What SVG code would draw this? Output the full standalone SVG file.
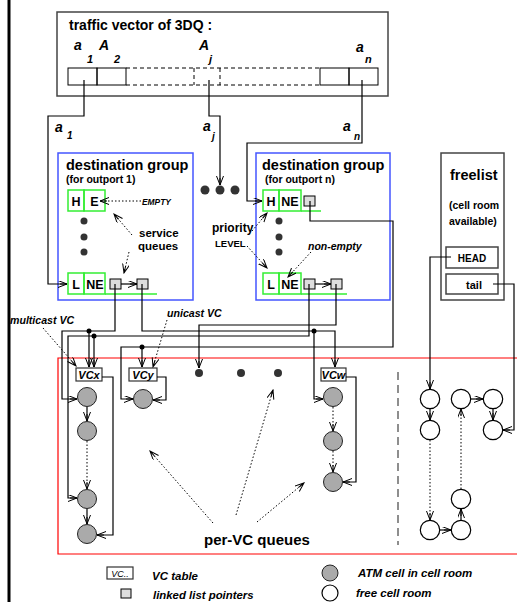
<svg xmlns="http://www.w3.org/2000/svg" width="517" height="602" viewBox="0 0 517 602">
<defs>
<marker id="ah" markerUnits="userSpaceOnUse" markerWidth="10" markerHeight="8" refX="9" refY="3.5" orient="auto">
<path d="M0,0 L9,3.5 L0,7 M9,3.5 L2,3.5" fill="none" stroke="#000" stroke-width="1"/>
</marker>
</defs>
<style>
.t{font-family:"Liberation Sans",Arial,Helvetica,sans-serif;font-weight:bold;fill:#000}
.i{font-style:italic}
.ln{fill:none;stroke:#000;stroke-width:1.2}
.dt{fill:none;stroke:#000;stroke-width:1;stroke-dasharray:1.5 2}
.cell{fill:#aaa;stroke:#222;stroke-width:1}
.free{fill:#fff;stroke:#000;stroke-width:1.2}
.gc{fill:none;stroke:#33ee33;stroke-width:1.5}
.ptr{fill:#ddd;stroke:#000;stroke-width:1}
.bd{fill:#333}
.box{fill:#fff;stroke:#444;stroke-width:1.5}
.blue{fill:none;stroke:#4455ff;stroke-width:1.5}
.vc{fill:#fff;stroke:#333;stroke-width:1.2}
</style>
<rect width="517" height="602" fill="#fff"/>
<line x1="9" y1="0" x2="9" y2="602" stroke="#000" stroke-width="3"/>

<g id="traffic-vector">
<rect x="57" y="12" width="331" height="84" class="box"/>
<text x="69" y="30" class="t" font-size="14">traffic vector of 3DQ :</text>
<rect x="68" y="68" width="29" height="17" fill="none" stroke="#000"/>
<rect x="97" y="68" width="29" height="17" fill="none" stroke="#000"/>
<path d="M126,68 H320 M126,85 H320 M194,68 V85 M220,68 V85" fill="none" stroke="#000" stroke-dasharray="4 3"/>
<rect x="320" y="68" width="29" height="17" fill="none" stroke="#000"/>
<rect x="349" y="68" width="29" height="17" fill="none" stroke="#000"/>
<text x="74" y="50" class="t i" font-size="14">a</text><text x="87" y="63" class="t i" font-size="11">1</text>
<text x="99" y="50" class="t i" font-size="14">A</text><text x="114" y="63" class="t i" font-size="11">2</text>
<text x="199" y="50" class="t i" font-size="14">A</text><text x="209" y="63" class="t i" font-size="11">j</text>
<text x="356" y="52" class="t i" font-size="14">a</text><text x="365" y="63" class="t i" font-size="11">n</text>
</g>

<g id="dest-group-1">
<rect x="58" y="153" width="135" height="147" class="blue"/>
<text x="66" y="170" class="t" font-size="14.5">destination group</text>
<text x="66" y="183" class="t" font-size="10.5">(for outport 1)</text>
<rect x="68" y="190" width="16" height="21" class="gc"/>
<rect x="84" y="190" width="21" height="21" class="gc"/>
<text x="76" y="206" class="t" font-size="12.5" text-anchor="middle">H</text>
<text x="94.5" y="206" class="t" font-size="12.5" text-anchor="middle">E</text>
<circle cx="84" cy="221" r="3.5" class="bd"/><circle cx="84" cy="237" r="3.5" class="bd"/><circle cx="84" cy="252" r="3.5" class="bd"/>
<rect x="68" y="273" width="16" height="21" class="gc"/>
<rect x="84" y="273" width="21" height="21" class="gc"/>
<line x1="105" y1="294" x2="157" y2="294" class="gc"/>
<text x="76" y="289" class="t" font-size="12.5" text-anchor="middle">L</text>
<text x="95" y="289" class="t" font-size="12.5" text-anchor="middle">NE</text>
<rect x="110" y="279" width="11" height="10" class="ptr"/>
<rect x="137" y="279" width="11" height="10" class="ptr"/>
<text x="142" y="205" class="t i" font-size="8.4">EMPTY</text>
<text x="139" y="237" class="t" font-size="11.5">service</text>
<text x="138" y="250" class="t" font-size="11.5">queues</text>
</g>

<g id="dest-group-n">
<rect x="256" y="153" width="134" height="147" class="blue"/>
<text x="262" y="170" class="t" font-size="14.5">destination group</text>
<text x="265" y="183" class="t" font-size="10.5">(for outport n)</text>
<rect x="263" y="190" width="16" height="21" class="gc"/>
<rect x="279" y="190" width="22" height="21" class="gc"/>
<line x1="301" y1="211" x2="321" y2="211" class="gc"/>
<text x="271" y="206" class="t" font-size="12.5" text-anchor="middle">H</text>
<text x="290" y="206" class="t" font-size="12.5" text-anchor="middle">NE</text>
<rect x="304" y="196" width="11" height="10" class="ptr"/>
<circle cx="279" cy="221" r="3.5" class="bd"/><circle cx="279" cy="237" r="3.5" class="bd"/><circle cx="279" cy="252" r="3.5" class="bd"/>
<rect x="263" y="273" width="16" height="21" class="gc"/>
<rect x="279" y="273" width="22" height="21" class="gc"/>
<line x1="301" y1="294" x2="347" y2="294" class="gc"/>
<text x="271" y="289" class="t" font-size="12.5" text-anchor="middle">L</text>
<text x="290" y="289" class="t" font-size="12.5" text-anchor="middle">NE</text>
<rect x="304" y="279" width="11" height="10" class="ptr"/>
<rect x="331" y="279" width="11" height="10" class="ptr"/>
<text x="308" y="250" class="t i" font-size="10.5">non-empty</text>
</g>

<g id="priority-label">
<text x="212" y="232" class="t" font-size="12">priority</text>
<text x="215" y="247" class="t" font-size="9.5">LEVEL</text>
</g>

<g id="group-dots">
<circle cx="205" cy="190" r="4.5" class="bd"/><circle cx="220" cy="190" r="4.5" class="bd"/><circle cx="235" cy="190" r="4.5" class="bd"/>
</g>

<g id="freelist">
<rect x="441" y="153" width="63" height="147" class="box"/>
<text x="450" y="180" class="t" font-size="14.5">freelist</text>
<text x="449" y="209" class="t" font-size="10.5">(cell room</text>
<text x="449" y="225" class="t" font-size="10.5">available)</text>
<rect x="446" y="247" width="52" height="21" class="box"/>
<text x="472" y="262" class="t" font-size="10" text-anchor="middle">HEAD</text>
<rect x="446" y="274" width="52" height="20" class="box"/>
<text x="474" y="289" class="t" font-size="11" text-anchor="middle">tail</text>
</g>

<g id="per-vc-region">
<path d="M518,358 H58 V554 H518" fill="none" stroke="#ff0000" stroke-width="1.2"/>
<line x1="398" y1="372" x2="398" y2="545" stroke="#444" stroke-width="1.2" stroke-dasharray="8 5"/>
<text x="204" y="545" class="t" font-size="15">per-VC queues</text>
<text x="10" y="324" class="t i" font-size="10.6">multicast VC</text>
<text x="167" y="317" class="t i" font-size="10.6">unicast VC</text>
</g>

<g id="vcx">
<rect x="76" y="368" width="26" height="13" class="vc"/>
<text x="89" y="379" class="t i" font-size="11" text-anchor="middle">VCx</text>
<circle cx="87" cy="397" r="9.5" class="cell"/>
<circle cx="87" cy="431" r="9.5" class="cell"/>
<circle cx="87" cy="499" r="9.5" class="cell"/>
<circle cx="87" cy="534" r="9.5" class="cell"/>
</g>
<g id="vcy">
<rect x="129" y="368" width="28" height="13" class="vc"/>
<text x="143" y="379" class="t i" font-size="11" text-anchor="middle">VCy</text>
<circle cx="143" cy="399" r="9.5" class="cell"/>
</g>
<g id="vc-dots">
<circle cx="199" cy="373" r="4" class="bd"/><circle cx="241" cy="373" r="4" class="bd"/><circle cx="278" cy="373" r="4" class="bd"/>
</g>
<g id="vcw">
<rect x="321" y="368" width="25" height="13" class="vc"/>
<text x="333.5" y="379" class="t i" font-size="11" text-anchor="middle">VCw</text>
<circle cx="333" cy="397" r="9.5" class="cell"/>
<circle cx="333" cy="441" r="9.5" class="cell"/>
<circle cx="333" cy="482" r="9.5" class="cell"/>
</g>
<g id="free-cells">
<circle cx="430" cy="399" r="9.7" class="free"/>
<circle cx="430" cy="430" r="9.7" class="free"/>
<circle cx="461" cy="399" r="9.7" class="free"/>
<circle cx="493" cy="399" r="9.7" class="free"/>
<circle cx="493" cy="430" r="9.7" class="free"/>
<circle cx="461" cy="499" r="9.7" class="free"/>
<circle cx="430" cy="530" r="9.7" class="free"/>
<circle cx="461" cy="530" r="9.7" class="free"/>
</g>

<g id="legend">
<rect x="107" y="567" width="26" height="12" class="vc"/>
<text x="120" y="577" class="t i" font-size="9" text-anchor="middle" style="font-weight:normal">VC..</text>
<text x="152" y="580" class="t i" font-size="11.5">VC table</text>
<rect x="121" y="589" width="10" height="9" class="ptr"/>
<text x="153" y="599" class="t i" font-size="11.4">linked list pointers</text>
<circle cx="330" cy="573" r="8" class="cell"/>
<text x="358" y="577" class="t i" font-size="11.5">ATM cell in cell room</text>
<circle cx="330" cy="593" r="8" class="free"/>
<text x="356" y="597" class="t i" font-size="11.5">free cell room</text>
</g>

<g id="connectors">
<path d="M84,80 V116 H48 V284 H67" class="ln" stroke="#444" marker-end="url(#ah)"/>
<path d="M209,80 V116 H220 V185" class="ln" marker-end="url(#ah)"/>
<path d="M362,80 V143 H247 V201 H262" class="ln" stroke="#444" marker-end="url(#ah)"/>
<text x="55" y="132" class="t i" font-size="14">a</text><text x="67" y="139" class="t i" font-size="10">1</text>
<text x="203" y="131" class="t i" font-size="14">a</text><text x="212" y="140" class="t i" font-size="10">j</text>
<text x="343" y="131" class="t i" font-size="14">a</text><text x="354" y="140" class="t i" font-size="10">n</text>

<line x1="121" y1="284" x2="137" y2="284" class="ln" marker-end="url(#ah)"/>
<line x1="315" y1="284" x2="331" y2="284" class="ln" marker-end="url(#ah)"/>

<path d="M141,201 H100" class="dt" marker-end="url(#ah)"/>
<path d="M132,235 L114,214" class="dt" marker-end="url(#ah)"/>
<path d="M129,252 L124,273" class="dt" marker-end="url(#ah)"/>
<path d="M252,231 L267,213" class="dt" marker-end="url(#ah)"/>
<path d="M247,246 L267,268" class="dt" marker-end="url(#ah)"/>
<path d="M311,252 L288,277" class="dt" marker-end="url(#ah)"/>

<path d="M115,284 V331 H62 V399 H77" class="ln" marker-end="url(#ah)"/>
<circle cx="89" cy="331" r="2.5" fill="#000"/>
<path d="M89,331 V367" class="ln" marker-end="url(#ah)"/>
<path d="M142,284 V331 H335 V367" class="ln" marker-end="url(#ah)"/>
<circle cx="314" cy="331" r="2.5" fill="#000"/>
<path d="M314,331 V399 H323" class="ln" marker-end="url(#ah)"/>
<path d="M309,284 V336 H68 V498 H77" class="ln" marker-end="url(#ah)"/>
<circle cx="94" cy="336" r="2.5" fill="#000"/>
<path d="M94,336 V367" class="ln" marker-end="url(#ah)"/>
<path d="M336,284 V325 H199 V368" class="ln" stroke="#444" marker-end="url(#ah)"/>
<path d="M310,201 V221 H393 V347 H121 V399 H133" class="ln" stroke="#444" marker-end="url(#ah)"/>
<circle cx="142" cy="347" r="2.5" fill="#000"/>
<path d="M142,347 V367" class="ln" marker-end="url(#ah)"/>

<path d="M102,377 H113 V535 H97" class="ln" marker-end="url(#ah)"/>
<path d="M157,377 H166 V400 H153" class="ln" marker-end="url(#ah)"/>
<path d="M346,377 H356 V482 H343" class="ln" marker-end="url(#ah)"/>
<path d="M87,407 V421" class="ln" marker-end="url(#ah)"/>
<path d="M87,441 V489" class="dt" marker-end="url(#ah)"/>
<path d="M87,509 V524" class="ln" marker-end="url(#ah)"/>
<path d="M333,407 V431" class="dt" marker-end="url(#ah)"/>
<path d="M333,451 V472" class="dt" marker-end="url(#ah)"/>

<path d="M43,328 L76,366" class="dt" marker-end="url(#ah)"/>
<path d="M167,320 L153,367" class="dt" marker-end="url(#ah)"/>
<path d="M213,523 L150,451" class="dt" marker-end="url(#ah)"/>
<path d="M236,515 L273,390" class="dt" marker-end="url(#ah)"/>
<path d="M257,522 L304,483" class="dt" marker-end="url(#ah)"/>

<path d="M451,257 H430 V389" class="ln" stroke="#444" marker-end="url(#ah)"/>
<path d="M493,284 H514 V430 H503" class="ln" stroke="#444" marker-end="url(#ah)"/>
<path d="M430,409 V420" class="ln" marker-end="url(#ah)"/>
<path d="M430,440 V520" class="dt" marker-end="url(#ah)"/>
<path d="M440,530 H451" class="ln" marker-end="url(#ah)"/>
<path d="M461,520 V509" class="ln" marker-end="url(#ah)"/>
<path d="M461,489 V409" class="dt" marker-end="url(#ah)"/>
<path d="M471,399 H483" class="ln" marker-end="url(#ah)"/>
<path d="M493,409 V420" class="ln" marker-end="url(#ah)"/>
</g>
</svg>
